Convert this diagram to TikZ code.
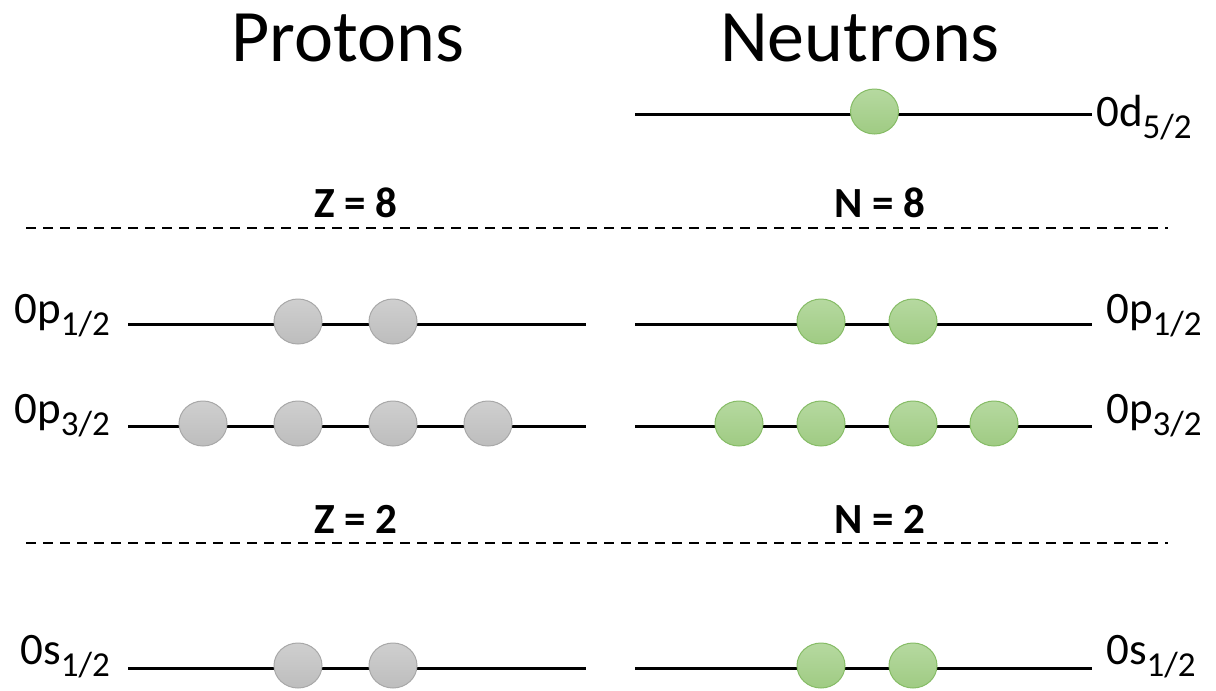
\documentclass[tikz,border=0pt]{standalone}
\usepackage{fontspec}
\setmainfont{Carlito}
\usetikzlibrary{shapes.geometric}

\definecolor{nucgreentop}{HTML}{B6D9A0}
\definecolor{nucgreenbot}{HTML}{9FCB83}
\definecolor{nucgreenedge}{HTML}{86BC66}
\definecolor{nucgraytop}{HTML}{CFCFCF}
\definecolor{nucgraybot}{HTML}{BDBDBD}
\definecolor{nucgrayedge}{HTML}{A8A8A8}

\tikzset{
  level/.style={line width=3pt, line cap=butt},
  shellgap/.style={line width=2pt, dash pattern=on 10pt off 7pt},
  nucleon/.style={ellipse, minimum width=48pt, minimum height=45pt, inner sep=0pt, line width=1pt},
  proton/.style={nucleon, draw=nucgrayedge, top color=nucgraytop, bottom color=nucgraybot},
  neutron/.style={nucleon, draw=nucgreenedge, top color=nucgreentop, bottom color=nucgreenbot},
  heading/.style={anchor=base, inner sep=0pt, font=\fontsize{74}{80}\selectfont},
  magic/.style={anchor=base, inner sep=0pt, font=\bfseries\fontsize{43}{46}\selectfont},
  orbit/.style={inner sep=0pt, font=\fontsize{45}{49}\selectfont},
}
\newcommand{\orb}[2]{0#1\raisebox{-12pt}{\fontsize{35}{38}\selectfont #2}}

\begin{document}
\begin{tikzpicture}[x=1pt, y=-1pt]
  \useasboundingbox (0,0) rectangle (1216,691);

  % column headings
  \node[heading] (hp) at (348,61) {Protons};
  \node[heading] (hn) at (860,61) {Neutrons};

  % level end points
  \coordinate (dRa) at (635,114);  \coordinate (dRb) at (1092,114);
  \coordinate (p1La) at (128,324); \coordinate (p1Lb) at (586,324);
  \coordinate (p1Ra) at (635,324); \coordinate (p1Rb) at (1092,324);
  \coordinate (p3La) at (128,426); \coordinate (p3Lb) at (586,426);
  \coordinate (p3Ra) at (635,426); \coordinate (p3Rb) at (1092,426);
  \coordinate (sLa) at (128,668);  \coordinate (sLb) at (586,668);
  \coordinate (sRa) at (635,668);  \coordinate (sRb) at (1092,668);

  \draw[level] (dRa) -- (dRb);
  \draw[level] (p1La) -- (p1Lb);
  \draw[level] (p1Ra) -- (p1Rb);
  \draw[level] (p3La) -- (p3Lb);
  \draw[level] (p3Ra) -- (p3Rb);
  \draw[level] (sLa) -- (sLb);
  \draw[level] (sRa) -- (sRb);

  % shell closures
  \coordinate (g8a) at (26,228);  \coordinate (g8b) at (1168,228);
  \coordinate (g2a) at (26,543);  \coordinate (g2b) at (1168,543);
  \draw[shellgap] (g8a) -- (g8b);
  \draw[shellgap] (g2a) -- (g2b);
  \node[magic] (z8) at (356,217) {Z = 8};
  \node[magic] (n8) at (880,217) {N = 8};
  \node[magic] (z2) at (356,533) {Z = 2};
  \node[magic] (n2) at (880,533) {N = 2};

  % orbital labels
  \node[orbit, anchor=base west] (ld) at (1096,126) {\orb{d}{5/2}};
  \node[orbit, anchor=base east] (lp1L) at (110,323) {\orb{p}{1/2}};
  \node[orbit, anchor=base west] (lp1R) at (1106,323) {\orb{p}{1/2}};
  \node[orbit, anchor=base east] (lp3L) at (110,423) {\orb{p}{3/2}};
  \node[orbit, anchor=base west] (lp3R) at (1106,423) {\orb{p}{3/2}};
  \node[orbit, anchor=base east] (lsL) at (110,664) {\orb{s}{1/2}};
  \node[orbit, anchor=base west] (lsR) at (1106,664) {\orb{s}{1/2}};

  % neutron in 0d5/2
  \node[neutron] (nd1) at (874.5,111.5) {};

  % 0p1/2
  \node[proton]  (pp1a) at (298,321.5) {};
  \node[proton]  (pp1b) at (393,321.5) {};
  \node[neutron] (np1a) at (821,321.5) {};
  \node[neutron] (np1b) at (913,321.5) {};

  % 0p3/2
  \node[proton]  (pp3a) at (203,423.5) {};
  \node[proton]  (pp3b) at (298,423.5) {};
  \node[proton]  (pp3c) at (393,423.5) {};
  \node[proton]  (pp3d) at (488,423.5) {};
  \node[neutron] (np3a) at (739,423.5) {};
  \node[neutron] (np3b) at (821,423.5) {};
  \node[neutron] (np3c) at (913,423.5) {};
  \node[neutron] (np3d) at (994,423.5) {};

  % 0s1/2
  \node[proton]  (ps1a) at (298,665.5) {};
  \node[proton]  (ps1b) at (393,665.5) {};
  \node[neutron] (ns1a) at (821,665.5) {};
  \node[neutron] (ns1b) at (913,665.5) {};
\end{tikzpicture}
\end{document}
